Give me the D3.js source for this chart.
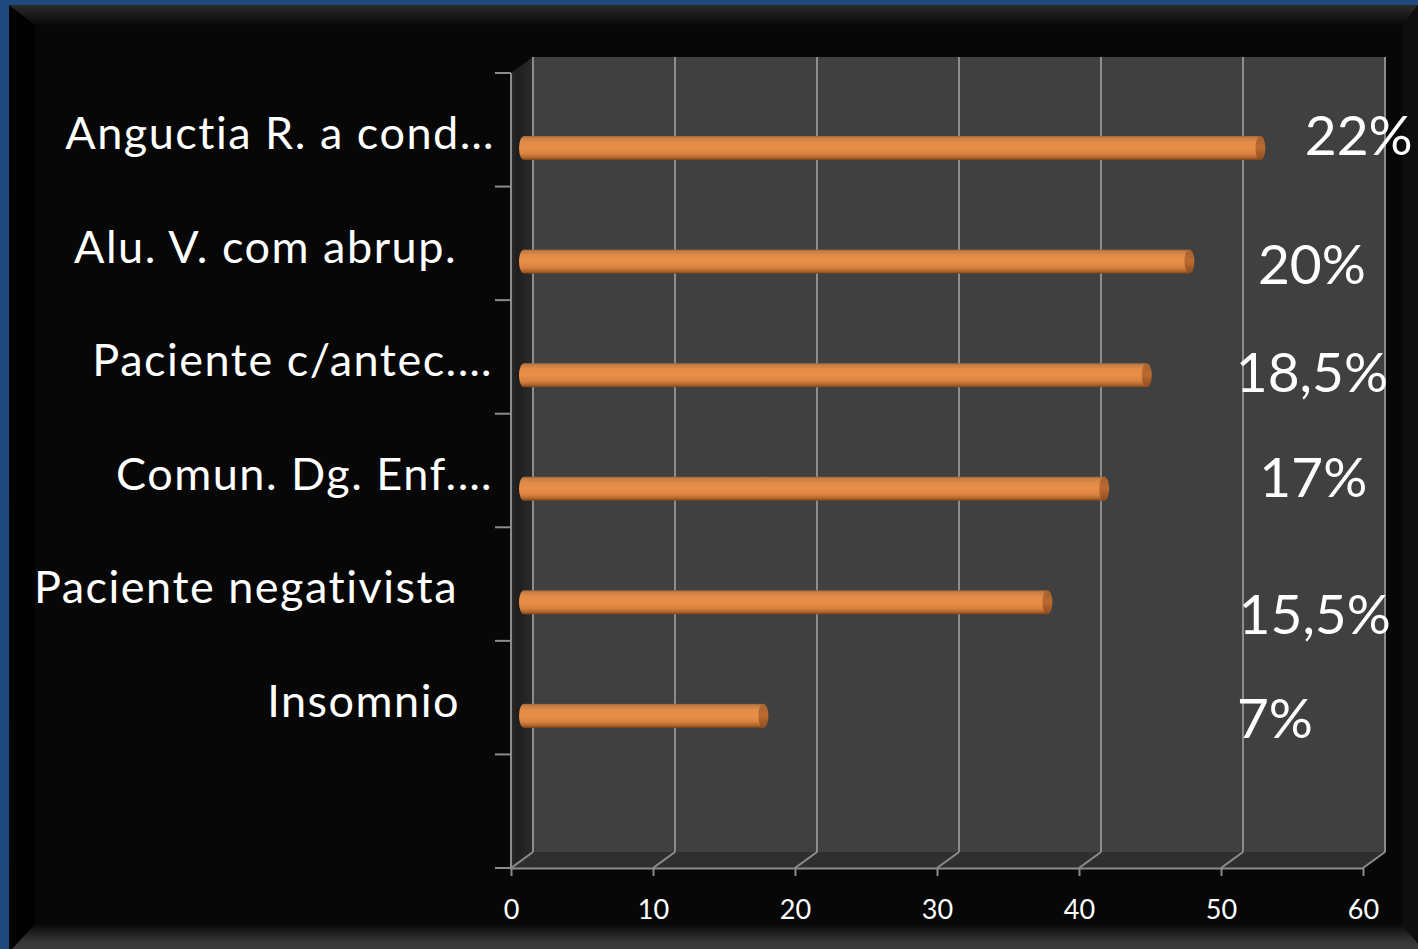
<!DOCTYPE html>
<html>
<head>
<meta charset="utf-8">
<script src="https://cdn.jsdelivr.net/npm/d3@7"></script>
<style>
  html, body { margin: 0; padding: 0; background: #1f4a7e; overflow: hidden; }
  svg { display: block; }
  text { font-variant-ligatures: none; font-feature-settings: "liga" 0, "clig" 0; }
</style>
</head>
<body>
<svg id="chart" width="1418" height="949"></svg>
<script>
// ---- data ----
const categories = [
  "Anguctia R. a cond\u2026",
  "Alu. V. com abrup.",
  "Paciente c/antec.\u2026",
  "Comun. Dg. Enf.\u2026",
  "Paciente negativista",
  "Insomnio"
];
const counts = [52, 47, 44, 41, 37, 17];
const shareLabels = ["22%", "20%", "18,5%", "17%", "15,5%", "7%"];
const xTicks = [0, 10, 20, 30, 40, 50, 60];

// ---- label placement (hand-placed labels) ----
const labelInset = [0, 38, 2, 2, 37, 35];                 // px in from the axis-side edge
const shareLabelX = [59.7, 56.4, 56.4, 56.5, 56.6, 53.8]; // centre, in axis units
const shareLabelDy = [7, 22, 17, 8, 32, 22];              // baseline offset from bar axis

// ---- geometry ----
const W = 1418, H = 949;
const plot = { left: 511, right: 1363, top: 73, bottom: 868 };
const depth = { dx: 22, dy: -16 };
const barRadius = 12;
const font = "Lato, 'Open Sans', sans-serif";

const svg = d3.select("#chart");
const defs = svg.append("defs");

// frame: blue slide edge, black bevelled picture
svg.append("rect").attr("width", W).attr("height", H).attr("fill", "#1f4a7e");
svg.append("rect").attr("x", 9).attr("y", 5).attr("width", W - 9).attr("height", H - 5).attr("fill", "#070707");

const gTop = defs.append("linearGradient").attr("id", "bevelTop").attr("x1", 0).attr("y1", 0).attr("x2", 0).attr("y2", 1);
gTop.append("stop").attr("offset", "0%").attr("stop-color", "#2c2c2c");
gTop.append("stop").attr("offset", "100%").attr("stop-color", "#080808");
const gBot = defs.append("linearGradient").attr("id", "bevelBottom").attr("x1", 0).attr("y1", 0).attr("x2", 0).attr("y2", 1);
gBot.append("stop").attr("offset", "0%").attr("stop-color", "#080808");
gBot.append("stop").attr("offset", "70%").attr("stop-color", "#363636");
gBot.append("stop").attr("offset", "100%").attr("stop-color", "#3c3c3c");

const bevel = (pts, fill) => svg.append("polygon").attr("points", pts.map(p => p.join(",")).join(" ")).attr("fill", fill);
bevel([[9, 5], [35, 25], [35, 924], [12, 949]], "#010101");
bevel([[W, 5], [1402, 25], [1402, 924], [W, 944]], "#0e0e0e");
bevel([[9, 5], [W, 5], [1402, 25], [35, 25]], "url(#bevelTop)");
bevel([[35, 924], [1402, 924], [W, 944], [W, H], [12, H]], "url(#bevelBottom)");

// ---- scales ----
const x = d3.scaleLinear().domain([0, 60]).range([plot.left, plot.right]);
const rows = d3.range(categories.length + 1); // trailing blank row under the last category
const y = d3.scaleBand().domain(rows).range([plot.top, plot.bottom]);
const barCy = i => y(i) + 75;
const xMid = v => x(v) + depth.dx / 2;

const g = svg.append("g");

// walls and floor
const poly = (pts, fill) => g.append("polygon").attr("points", pts.map(p => p.join(",")).join(" ")).attr("fill", fill);
poly([[x(0) + depth.dx, plot.top + depth.dy], [x(60) + depth.dx, plot.top + depth.dy],
      [x(60) + depth.dx, plot.bottom + depth.dy], [x(0) + depth.dx, plot.bottom + depth.dy]], "#404040");
const gSide = defs.append("linearGradient").attr("id", "sideWall").attr("x1", 0).attr("y1", 0).attr("x2", 1).attr("y2", 0);
gSide.append("stop").attr("offset", "0%").attr("stop-color", "#2a2a2a");
gSide.append("stop").attr("offset", "30%").attr("stop-color", "#1f1f1f");
gSide.append("stop").attr("offset", "100%").attr("stop-color", "#2b2b2b");
poly([[x(0), plot.top], [x(0) + depth.dx, plot.top + depth.dy],
      [x(0) + depth.dx, plot.bottom + depth.dy], [x(0), plot.bottom]], "url(#sideWall)");
poly([[x(0), plot.bottom], [x(60), plot.bottom],
      [x(60) + depth.dx, plot.bottom + depth.dy], [x(0) + depth.dx, plot.bottom + depth.dy]], "#2f2f2f");

const lineColor = "#8c8c8c";
// gridlines on back wall and floor
xTicks.forEach(t => {
  g.append("line")
    .attr("x1", x(t) + depth.dx).attr("x2", x(t) + depth.dx)
    .attr("y1", plot.top + depth.dy).attr("y2", plot.bottom + depth.dy)
    .attr("stroke", lineColor).attr("stroke-width", 2);
  g.append("line")
    .attr("x1", x(t)).attr("y1", plot.bottom)
    .attr("x2", x(t) + depth.dx).attr("y2", plot.bottom + depth.dy)
    .attr("stroke", lineColor).attr("stroke-width", 2);
});

// value axis
const xAxis = d3.axisBottom(x).tickValues(xTicks).tickSize(8).tickSizeOuter(0).tickPadding(24);
const gx = g.append("g").attr("transform", `translate(0,${plot.bottom})`).call(xAxis);
gx.select(".domain").attr("stroke", lineColor).attr("stroke-width", 2);
gx.selectAll(".tick line").attr("stroke", lineColor).attr("stroke-width", 2);
gx.selectAll(".tick text")
  .attr("fill", "#ffffff").attr("font-family", font)
  .attr("font-size", 27);

// category axis line and band ticks
g.append("line")
  .attr("x1", plot.left).attr("x2", plot.left)
  .attr("y1", plot.top).attr("y2", plot.bottom)
  .attr("stroke", lineColor).attr("stroke-width", 2);
rows.concat([rows.length]).forEach(k => {
  const yy = plot.top + k * y.step();
  g.append("line")
    .attr("x1", plot.left - 16).attr("x2", plot.left)
    .attr("y1", yy).attr("y2", yy)
    .attr("stroke", lineColor).attr("stroke-width", 2);
});

// category labels
g.selectAll("text.cat").data(categories).join("text")
  .attr("class", "cat")
  .attr("x", (d, i) => plot.left - 16 - labelInset[i])
  .attr("y", (d, i) => barCy(i) + 1)
  .attr("text-anchor", "end")
  .attr("fill", "#ffffff")
  .attr("font-family", font)
  .attr("font-size", 45)
  .attr("letter-spacing", 1.5)
  .text(d => d);

// cylinder bars
const gBar = defs.append("linearGradient").attr("id", "barBody").attr("x1", 0).attr("y1", 0).attr("x2", 0).attr("y2", 1);
[["0%", "#9a6236"], ["7%", "#c47d44"], ["25%", "#e38b47"], ["50%", "#e88f49"], ["75%", "#d9823f"],
 ["90%", "#b0652c"], ["100%", "#7a4318"]].forEach(([o, c]) =>
  gBar.append("stop").attr("offset", o).attr("stop-color", c));
const gCap = defs.append("linearGradient").attr("id", "barCap").attr("x1", 0).attr("y1", 0).attr("x2", 0).attr("y2", 1);
[["0%", "#a5632f"], ["50%", "#bb6a30"], ["100%", "#8c4c1e"]].forEach(([o, c]) =>
  gCap.append("stop").attr("offset", o).attr("stop-color", c));

const bars = g.selectAll("g.bar").data(counts).join("g").attr("class", "bar");
bars.append("ellipse")
  .attr("cx", xMid(0) + 2).attr("cy", (d, i) => barCy(i))
  .attr("rx", 5).attr("ry", barRadius)
  .attr("fill", "url(#barBody)");
bars.append("rect")
  .attr("x", xMid(0) + 2).attr("y", (d, i) => barCy(i) - barRadius)
  .attr("width", d => xMid(d) - xMid(0) - 2).attr("height", barRadius * 2)
  .attr("fill", "url(#barBody)");
bars.append("ellipse")
  .attr("cx", d => xMid(d)).attr("cy", (d, i) => barCy(i))
  .attr("rx", 5).attr("ry", barRadius)
  .attr("fill", "url(#barCap)");

// share labels
g.selectAll("text.share").data(shareLabels).join("text")
  .attr("class", "share")
  .attr("x", (d, i) => x(shareLabelX[i]))
  .attr("y", (d, i) => barCy(i) + shareLabelDy[i])
  .attr("text-anchor", "middle")
  .attr("fill", "#ffffff")
  .attr("font-family", font)
  .attr("font-size", 55)
  .text(d => d);
</script>
</body>
</html>
